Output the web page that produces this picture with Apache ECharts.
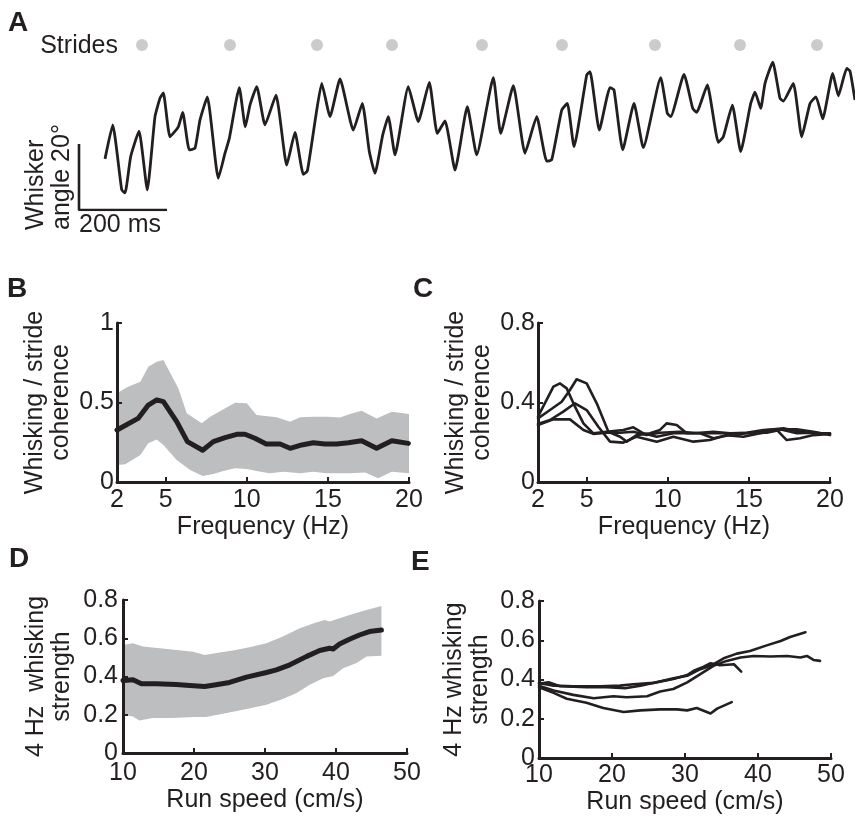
<!DOCTYPE html>
<html>
<head>
<meta charset="utf-8">
<script src="https://cdn.jsdelivr.net/npm/echarts@6/dist/echarts.min.js"></script>
<style>html,body{margin:0;padding:0;background:#fff}#c{width:855px;height:816px}</style>
</head>
<body>
<div id="c"></div>
<script>
// ---------- Panel A: whisker angle trace ----------
const traceTimeMs = [0,17.5,38,45.5,58.4,77.3,96.1,113.6,125,132.5,147.7,166.6,176.6,191.6,204.5,215.9,232.5,257.5,272.7,282.5,305.2,318.9,329.5,344.8,363.6,388.6,413,431.8,450.7,459.8,479.5,492.5,511.4,534.1,564.3,584.8,600.7,613.6,631.1,643.9,659.1,689.3,712,737,755.2,772.7,795.5,823.4,844.8,882.5,899.3,928,954.5,981.1,1003.9,1015.2,1038,1050.7,1065.9,1094.8,1102.3,1123.4,1147.7,1156.8,1176.6,1202.3,1223.4,1262.9,1278,1285.7,1315.9,1335.7,1344.8,1352.3,1368.9,1394,1405.2,1425.7,1444.8,1467.5,1477.3,1490.2,1500,1517.5,1534.1,1541.6,1564.3,1583.4,1602.3,1615.9,1631.1,1653.9,1666.6,1685.7,1693.2,1704.5];
const traceAngleDeg = [15.5,25.8,6.1,5.2,16.2,23.9,6.1,28.3,33.9,35.5,22.2,25.2,29.6,18.2,18.7,27.3,34.3,9.6,17.2,21.7,37.1,25.2,31.8,37.4,25.8,34.8,13.6,23.5,10.8,11.8,28.8,38.4,28.3,39.7,24.2,32.3,17.7,11.1,22.7,28.3,16.7,37.4,26.8,38.7,23.2,27.0,12.1,31.3,16.7,40.1,23.2,37.7,17.2,28.3,14.8,15.2,30.3,32.3,19.2,40.9,41.9,24.2,37.1,36.4,18.2,32.3,18.9,40.1,29.3,28.3,41.1,30.8,29.6,31.8,37.9,20.5,22.2,31.8,17.7,32.3,35.7,30.8,38.4,44.8,33.8,33.0,38.4,22.2,32.3,34.3,27.6,41.4,34.6,42.9,42.1,33.3];
const strideTimesMs = [84.1,284.1,481.8,652.3,856.8,1038.6,1250,1443.2,1618.2];
const scaleBarMs = 200;
const scaleBarDeg = 20;

// ---------- Panel B: mean coherence with spread ----------
const freqB = [2.0,3.3,3.93,4.45,4.86,5.68,6.34,7.28,7.94,8.66,9.38,9.89,10.5,11.2,12.05,12.67,13.39,14.1,14.82,15.54,16.26,17.08,18.0,18.94,19.96];
const meanB = [0.327,0.40,0.484,0.516,0.505,0.38,0.254,0.20,0.254,0.279,0.30,0.30,0.275,0.239,0.239,0.212,0.233,0.247,0.239,0.239,0.247,0.26,0.212,0.26,0.243];
const upperFreqB = [2.0,2.62,3.44,3.93,4.45,4.86,5.78,6.30,7.22,7.74,8.56,9.28,10.0,10.6,11.85,12.67,13.29,14.1,15.0,15.75,16.36,17.08,18.0,18.94,20.0];
const upperB = [0.558,0.596,0.631,0.725,0.757,0.767,0.589,0.432,0.369,0.411,0.457,0.499,0.495,0.421,0.407,0.379,0.407,0.411,0.411,0.405,0.428,0.448,0.40,0.442,0.428];
const lowerFreqB = [2.0,2.51,3.44,3.93,4.45,4.86,5.68,6.51,7.28,7.94,8.56,9.28,10.0,10.6,11.4,12.26,13.29,14.1,14.9,16.36,17.3,18.1,18.94,20.0];
const lowerB = [0.107,0.112,0.17,0.243,0.268,0.233,0.138,0.075,0.038,0.05,0.069,0.086,0.082,0.069,0.055,0.065,0.055,0.065,0.055,0.055,0.06,0.023,0.065,0.055];

// ---------- Panel C: individual animals ----------
const freqC1 = [2.0,2.53,2.95,3.36,3.77,4.28,4.8,5.41,6.23,7.26,7.88,8.49,9.32,10.34,11.58,12.81,13.84,14.86,15.89,16.92,17.95,18.98,20.0];
const cohC1 = [0.329,0.413,0.48,0.496,0.471,0.379,0.295,0.245,0.253,0.262,0.275,0.245,0.228,0.245,0.245,0.253,0.245,0.248,0.262,0.265,0.245,0.248,0.242];
const freqC2 = [2.0,2.74,3.46,3.97,4.38,5.0,5.62,6.34,7.06,7.47,8.08,8.91,9.52,9.93,10.55,11.17,12.4,13.22,14.25,15.28,16.1,17.13,18.15,19.18,20.0];
const cohC2 = [0.32,0.362,0.404,0.463,0.517,0.496,0.396,0.253,0.228,0.203,0.236,0.245,0.262,0.295,0.287,0.245,0.245,0.245,0.245,0.248,0.262,0.27,0.253,0.245,0.245];
const freqC3 = [2.0,2.74,3.56,4.28,5.0,5.72,6.44,7.26,8.08,9.32,10.34,11.58,12.6,13.63,14.66,15.69,16.72,17.33,18.15,18.98,20.0];
const cohC3 = [0.292,0.312,0.354,0.396,0.362,0.278,0.203,0.198,0.228,0.203,0.228,0.203,0.211,0.236,0.228,0.245,0.262,0.211,0.22,0.236,0.242];
const freqC4 = [2.0,2.95,3.97,4.8,5.41,6.23,7.06,7.88,8.7,9.52,10.75,11.99,12.81,13.84,14.86,16.1,17.13,17.95,18.98,20.0];
const cohC4 = [0.287,0.315,0.315,0.262,0.242,0.248,0.248,0.253,0.236,0.248,0.253,0.245,0.22,0.236,0.245,0.248,0.265,0.265,0.253,0.236];

// ---------- Panel D: mean 4 Hz whisking strength vs run speed ----------
const speedD = [10,11.4,12.6,14.7,17.5,19.4,21.5,23.1,25.0,27.4,30.2,31.6,33.5,35.8,37.7,39.1,39.6,40.5,41.9,43.3,44.7,46.4];
const meanD = [0.379,0.383,0.362,0.362,0.358,0.353,0.348,0.357,0.369,0.397,0.421,0.435,0.461,0.504,0.536,0.548,0.544,0.570,0.595,0.617,0.635,0.643];
const upperSpeedD = [10,11.4,12.8,15.2,17.5,19.9,21.5,23.6,25.5,27.8,30.2,32.5,34.9,37.2,38.4,39.1,41.9,44.3,46.4];
const upperD = [0.565,0.574,0.557,0.548,0.539,0.53,0.513,0.525,0.536,0.553,0.574,0.609,0.652,0.682,0.696,0.687,0.722,0.748,0.769];
const lowerSpeedD = [10,11.4,12.3,14.2,17.0,19.9,21.7,24.6,27.4,30.2,32.5,34.4,36.3,38.2,39.6,41.0,42.9,44.3,46.4];
const lowerD = [0.2,0.191,0.17,0.183,0.183,0.188,0.188,0.209,0.23,0.252,0.282,0.313,0.357,0.391,0.403,0.443,0.47,0.504,0.508];

// ---------- Panel E: individual animals ----------
const speedE1 = [10,11.3,12.9,16.5,19.3,21.8,23.9,26.1,28.4,30.3,32.1,33.5,35.3,37.1,38.9,41.2,43.1,44.4,46.5];
const strengthE1 = [0.378,0.386,0.366,0.361,0.361,0.356,0.369,0.386,0.406,0.419,0.453,0.47,0.508,0.532,0.545,0.574,0.596,0.617,0.641];
const speedE2 = [10,12,14.7,17.5,20.2,22.0,24.8,26.6,28.4,30.3,32.1,33.9,35.7,37.6,39.4,41.7,44.0,45.8,46.7,47.6,48.5];
const strengthE2 = [0.369,0.344,0.322,0.305,0.315,0.31,0.315,0.339,0.352,0.386,0.428,0.47,0.495,0.512,0.52,0.517,0.52,0.512,0.52,0.5,0.495];
const speedE3 = [10,12,14.7,18.4,21.1,22.9,25.7,28.4,30.3,31.2,32.3,33.5,34.8,36.7,37.7];
const strengthE3 = [0.383,0.369,0.366,0.366,0.369,0.376,0.383,0.403,0.423,0.445,0.461,0.483,0.473,0.478,0.44];
const speedE4 = [10,12,13.8,16.5,18.8,21.6,23.9,26.6,28.9,30.3,31.6,33.5,34.4,36.4];
const strengthE4 = [0.361,0.332,0.302,0.282,0.255,0.235,0.243,0.248,0.248,0.243,0.255,0.227,0.252,0.285];

// ---------- Axis ticks ----------
const freqTicks = [2, 5, 10, 15, 20];

// ---------- Styling ----------
const FONT = "'Liberation Sans', Arial, Helvetica, sans-serif";
const INK = '#231f20';
const GRAY = '#bcbec0';
const FS = 25;

const zip = (xs, ys) => xs.map((x, i) => [x, ys[i]]);

function bandSeries(idx, ux, uy, lx, ly) {
  const pts = zip(ux, uy).concat(zip(lx, ly).reverse());
  return {
    type: 'custom', xAxisIndex: idx, yAxisIndex: idx, silent: true, z: 1,
    data: [pts[0]],
    renderItem: (params, api) => ({
      type: 'polygon',
      shape: { points: pts.map(p => api.coord(p)) },
      style: { fill: GRAY }
    })
  };
}
function lineSeries(idx, xs, ys, width) {
  return {
    type: 'line', xAxisIndex: idx, yAxisIndex: idx, data: zip(xs, ys),
    showSymbol: false, symbol: 'none', silent: true, z: 3,
    lineStyle: { color: INK, width: width, join: 'round', cap: 'round' }
  };
}

const axisCommon = {
  type: 'value', z: 5,
  axisLine: { show: true, onZero: false, lineStyle: { color: INK, width: 3 } },
  axisTick: { show: true, inside: true, length: 5, lineStyle: { color: INK, width: 2 } },
  splitLine: { show: false },
  axisLabel: { color: INK, fontSize: FS, fontFamily: FONT },
  nameTextStyle: { color: INK, fontSize: FS, fontFamily: FONT, lineHeight: 26 },
  nameLocation: 'middle'
};
function xAx(grid, extra) {
  return Object.assign({}, axisCommon, { gridIndex: grid }, extra);
}

const option = {
  animation: false,
  backgroundColor: '#ffffff',
  grid: [
    { left: 79, right: 0, top: 45, bottom: 606 },
    { left: 117, right: 446, top: 323, bottom: 334 },
    { left: 538, right: 25, top: 323, bottom: 334 },
    { left: 123, right: 448, top: 600, bottom: 63 },
    { left: 539, right: 24, top: 601, bottom: 56 }
  ],
  xAxis: [
    { gridIndex: 0, type: 'value', min: -59.1, max: 1704.5, show: false },
    xAx(1, { min: 2, max: 20, name: 'Frequency (Hz)', nameGap: 30,
      axisLabel: Object.assign({}, axisCommon.axisLabel, { margin: 6, customValues: freqTicks }),
      axisTick: Object.assign({}, axisCommon.axisTick, { customValues: freqTicks }) }),
    xAx(2, { min: 2, max: 20, name: 'Frequency (Hz)', nameGap: 30,
      axisLabel: Object.assign({}, axisCommon.axisLabel, { margin: 6, customValues: freqTicks }),
      axisTick: Object.assign({}, axisCommon.axisTick, { customValues: freqTicks }) }),
    xAx(3, { min: 10, max: 50, interval: 10, name: 'Run speed (cm/s)', nameGap: 29,
      axisLabel: Object.assign({}, axisCommon.axisLabel, { margin: 8 }) }),
    xAx(4, { min: 10, max: 50, interval: 10, name: 'Run speed (cm/s)', nameGap: 28,
      axisLabel: Object.assign({}, axisCommon.axisLabel, { margin: 5 }) })
  ],
  yAxis: [
    { gridIndex: 0, type: 'value', min: 0, max: 50, show: false },
    xAx(1, { min: 0, max: 1, interval: 0.5, name: 'Whisking / stride\ncoherence', nameGap: 43,
      axisLabel: Object.assign({}, axisCommon.axisLabel, { margin: 3 }) }),
    xAx(2, { min: 0, max: 0.8, interval: 0.4, name: 'Whisking / stride\ncoherence', nameGap: 43,
      axisLabel: Object.assign({}, axisCommon.axisLabel, { margin: 3 }) }),
    xAx(3, { min: 0, max: 0.8, interval: 0.2, name: '4 Hz  whisking\nstrength', nameGap: 48,
      axisLabel: Object.assign({}, axisCommon.axisLabel, { margin: 5 }) }),
    xAx(4, { min: 0, max: 0.8, interval: 0.2, name: '4 Hz whisking\nstrength', nameGap: 46,
      axisLabel: Object.assign({}, axisCommon.axisLabel, { margin: 4 }) })
  ],
  series: [
    {
      type: 'line', xAxisIndex: 0, yAxisIndex: 0, data: zip(traceTimeMs, traceAngleDeg),
      showSymbol: false, symbol: 'none', silent: true, smooth: 0.15,
      lineStyle: { color: INK, width: 2.8, join: 'round' }
    },
    {
      type: 'scatter', xAxisIndex: 0, yAxisIndex: 0, silent: true,
      data: strideTimesMs.map(t => [t, 50]),
      symbol: 'circle', symbolSize: 12, itemStyle: { color: GRAY }
    },
    {
      type: 'line', xAxisIndex: 0, yAxisIndex: 0, silent: true, showSymbol: false, symbol: 'none',
      data: [[-59.1, scaleBarDeg], [-59.1, 0], [-59.1 + scaleBarMs, 0]],
      lineStyle: { color: INK, width: 2.6 }
    },
    bandSeries(1, upperFreqB, upperB, lowerFreqB, lowerB),
    lineSeries(1, freqB, meanB, 5),
    lineSeries(2, freqC1, cohC1, 2.6),
    lineSeries(2, freqC2, cohC2, 2.6),
    lineSeries(2, freqC3, cohC3, 2.6),
    lineSeries(2, freqC4, cohC4, 2.6),
    bandSeries(3, upperSpeedD, upperD, lowerSpeedD, lowerD),
    lineSeries(3, speedD, meanD, 5),
    lineSeries(4, speedE1, strengthE1, 2.6),
    lineSeries(4, speedE2, strengthE2, 2.6),
    lineSeries(4, speedE3, strengthE3, 2.6),
    lineSeries(4, speedE4, strengthE4, 2.6)
  ],
  graphic: [
    { type: 'text', x: 8, y: 9, style: { text: 'A', fontSize: 28, fontWeight: 'bold', fontFamily: FONT, fill: INK } },
    { type: 'text', x: 7, y: 275, style: { text: 'B', fontSize: 28, fontWeight: 'bold', fontFamily: FONT, fill: INK } },
    { type: 'text', x: 413, y: 275, style: { text: 'C', fontSize: 28, fontWeight: 'bold', fontFamily: FONT, fill: INK } },
    { type: 'text', x: 9, y: 545, style: { text: 'D', fontSize: 28, fontWeight: 'bold', fontFamily: FONT, fill: INK } },
    { type: 'text', x: 411, y: 548, style: { text: 'E', fontSize: 28, fontWeight: 'bold', fontFamily: FONT, fill: INK } },
    { type: 'text', x: 118, y: 46, style: { text: 'Strides', align: 'right', verticalAlign: 'middle', fontSize: FS, fontFamily: FONT, fill: INK } },
    { type: 'text', x: 79, y: 213, style: { text: '200 ms', align: 'left', verticalAlign: 'top', fontSize: FS, fontFamily: FONT, fill: INK } },
    { type: 'text', x: 49, y: 230, rotation: Math.PI / 2, style: { text: 'Whisker\nangle 20°', align: 'left', verticalAlign: 'middle', fontSize: FS, lineHeight: 26, fontFamily: FONT, fill: INK } }
  ]
};

const chart = echarts.init(document.getElementById('c'), null, { renderer: 'canvas' });
chart.setOption(option);
</script>
</body>
</html>
